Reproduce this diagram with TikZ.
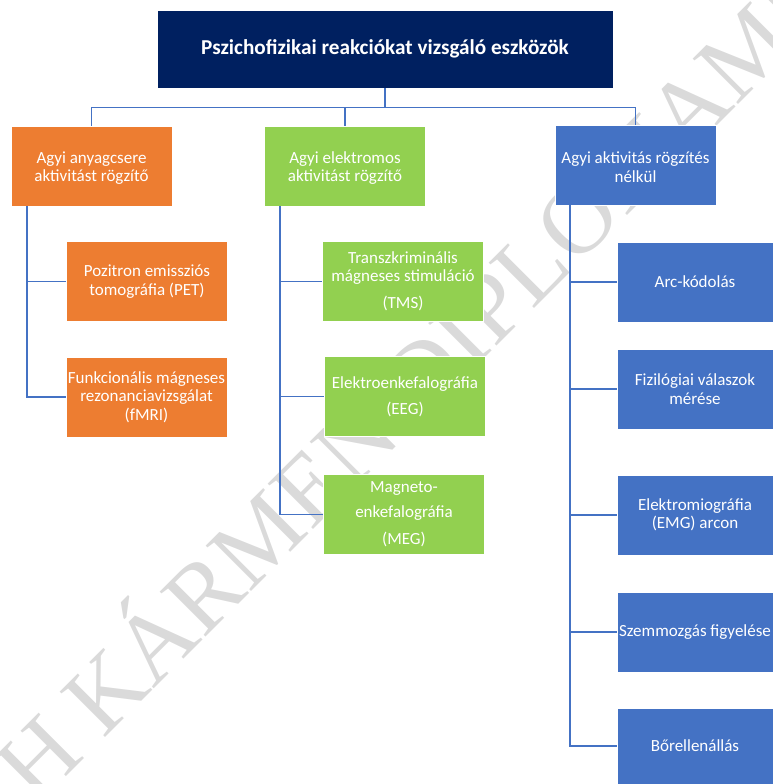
\documentclass[tikz,border=0pt]{standalone}
\usepackage{fontspec}
\setmainfont{Carlito}
\newfontfamily\wmfont{Liberation Serif}
\definecolor{navyc}{HTML}{002060}
\definecolor{orgc}{HTML}{ED7D31}
\definecolor{grnc}{HTML}{92D050}
\definecolor{bluc}{HTML}{4472C4}
\definecolor{wmgray}{HTML}{DADADA}
\newcommand\mytstrut{\rule{0pt}{16pt}}
\begin{document}
\begin{tikzpicture}[x=1pt,y=-1pt,
  box/.style={rectangle, draw=white, line width=0.8pt, text=white, align=center,
    minimum width=161pt, minimum height=80pt, inner sep=0pt,
    font=\fontsize{17}{18.5}\selectfont},
  obox/.style={box, fill=orgc},
  gbox/.style={box, fill=grnc},
  bbox/.style={box, fill=bluc},
  bchild/.style={bbox, minimum width=156pt},
  conn/.style={draw=bluc, line width=1.8pt}]
\useasboundingbox (0,0) rectangle (773,784);
% watermark
\begin{scope}
\clip (0,0) rectangle (773,784);
\begin{scope}[shift={(36,807)}]
\node[font=\wmfont\fontsize{98}{98}\selectfont, text=wmgray, rotate=45,
  anchor=base west, inner sep=0pt] (wm) at (0,0) {H KÁRMEN DIPLOMAMU};
\end{scope}
\end{scope}
% boxes
\node[box, fill=navyc, minimum width=456pt, minimum height=78pt,
  font=\bfseries\fontsize{21.2}{24}\selectfont] (title) at (385,49)
  {Pszichofizikai reakciókat vizsgáló eszközök};
\node[obox] (o1) at (91.5,166) {\mytstrut Agyi anyagcsere\\aktivitást rögzítő};
\node[gbox] (g1) at (345,166) {\mytstrut Agyi elektromos\\aktivitást rögzítő};
\node[bbox] (b1) at (635.5,165) {\mytstrut Agyi aktivitás rögzítés\\nélkül};
\node[obox] (pet) at (147,281.5) {Pozitron emissziós\\tomográfia (PET)};
\node[obox] (fmri) at (146.5,397) {Funkcionális mágneses\\rezonanciavizsgálat\\(fMRI)};
\node[gbox] (tms) at (403,281.5) {Transzkriminális\\mágneses stimuláció\\[8.5pt](TMS)};
\node[gbox] (eeg) at (405,396.5) {Elektroenkefalográfia\\[7.5pt](EEG)};
\node[gbox] (meg) at (404,514.5) {Magneto-\\[6.5pt]enkefalográfia\\[8.5pt](MEG)};
\node[bchild] (arc) at (695,282) {Arc-kódolás};
\node[bchild] (fiz) at (695,389) {Fizilógiai válaszok\\mérése};
\node[bchild] (emg) at (695,515) {Elektromiográfia\\(EMG) arcon};
\node[bchild] (szem) at (695,632) {Szemmozgás figyelése};
\node[bchild, minimum height=76pt] (bor) at (695,746) {Bőrellenállás};
% connectors
\draw[conn] (title.south) -- ++(0,19) -| (o1.north);
\draw[conn] (title.south) -- ++(0,19) -| (g1.north);
\draw[conn] (title.south) -- ++(0,19) -| (b1.north);
\coordinate (ov) at ([xshift=16pt]o1.south west);
\coordinate (gv) at ([xshift=16pt]g1.south west);
\coordinate (bv) at ([xshift=15pt]b1.south west);
\draw[conn] (ov) |- (pet.west);
\draw[conn] (ov) |- (fmri.west);
\draw[conn] (gv) |- (tms.west);
\draw[conn] (gv) |- (eeg.west);
\draw[conn] (gv) |- (meg.west);
\draw[conn] (bv) |- (arc.west);
\draw[conn] (bv) |- (fiz.west);
\draw[conn] (bv) |- (emg.west);
\draw[conn] (bv) |- (szem.west);
\draw[conn] (bv) |- (bor.west);
\end{tikzpicture}
\end{document}
